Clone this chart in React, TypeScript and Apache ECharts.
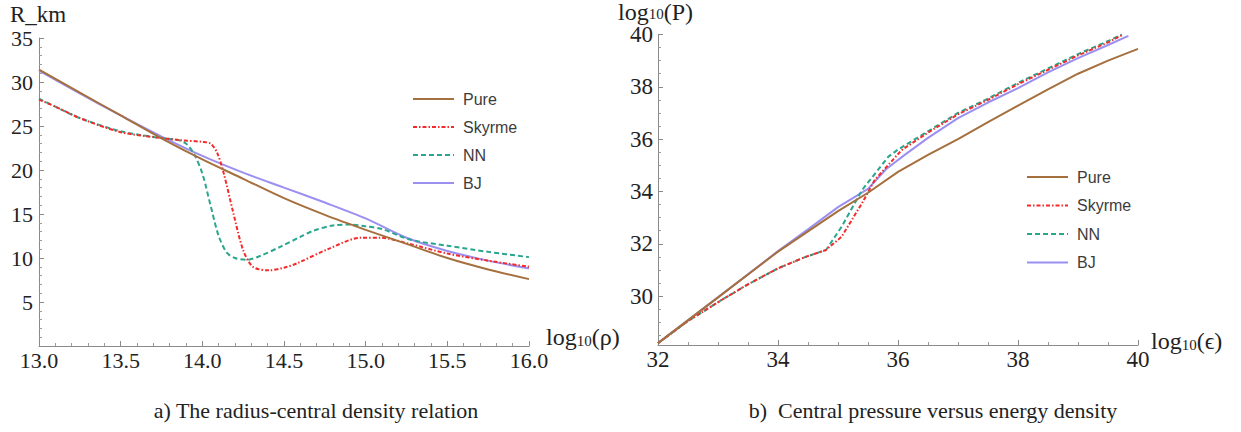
import React, { useEffect, useRef } from 'react';
import * as echarts from 'echarts';

// ---------- data ----------
const seriesNames = ['Pure', 'Skyrme', 'NN', 'BJ'];
const seriesColors = ['#a66f3e', '#f52a2a', '#2aa68e', '#9b90f0'];

// a) radius (km) vs log10(central density)
const pureRadius = [
  [13.0, 31.4], [13.25, 28.8], [13.5, 26.2], [13.75, 23.6], [14.0, 21.2], [14.25, 19.0],
  [14.5, 16.8], [14.75, 14.9], [15.0, 13.2], [15.25, 11.6], [15.5, 10.0], [15.75, 8.7], [16.0, 7.6],
];
const skyrmeRadius = [
  [13.0, 28.0], [13.1, 27.2], [13.25, 25.9], [13.5, 24.3], [13.72, 23.7], [13.86, 23.4], [14.0, 23.2],
  [14.05, 23.0], [14.09, 22.0], [14.13, 19.7], [14.19, 15.1], [14.25, 10.9], [14.31, 9.0],
  [14.41, 8.6], [14.5, 8.9], [14.58, 9.4], [14.78, 11.1], [14.97, 12.3], [15.09, 12.3],
  [15.27, 11.6], [15.5, 10.5], [15.75, 9.7], [16.0, 9.0],
];
const nnRadius = [
  [13.0, 28.1], [13.1, 27.2], [13.25, 25.9], [13.5, 24.4], [13.72, 23.7], [13.85, 23.4], [13.9, 23.0],
  [13.95, 21.8], [14.0, 19.6], [14.05, 16.0], [14.1, 12.5], [14.15, 10.6], [14.2, 10.0],
  [14.27, 9.8], [14.35, 10.2], [14.48, 11.3], [14.6, 12.4], [14.68, 13.1], [14.8, 13.7],
  [14.9, 13.8], [15.0, 13.6], [15.1, 13.3], [15.27, 12.1], [15.5, 11.4], [15.75, 10.7], [16.0, 10.1],
];
const bjRadius = [
  [13.0, 31.3], [13.25, 28.7], [13.5, 26.2], [13.75, 23.8], [14.0, 21.6], [14.25, 19.7],
  [14.5, 18.0], [14.75, 16.3], [15.0, 14.5], [15.25, 12.3], [15.5, 10.8], [15.75, 9.7], [16.0, 8.8],
];

// b) log10(P) vs log10(energy density)
const purePressure = [
  [32, 28.2], [33, 29.95], [34, 31.7], [35, 33.25], [35.5, 33.95], [36, 34.75], [36.5, 35.4],
  [37, 36.0], [37.5, 36.65], [38, 37.28], [38.5, 37.9], [39, 38.5], [39.5, 39.0], [40, 39.45],
];
const skyrmePressure = [
  [32, 28.2], [32.5, 29.05], [33.06, 29.85], [33.5, 30.45], [34, 31.06], [34.46, 31.5],
  [34.8, 31.76], [34.87, 31.9], [35.06, 32.27], [35.4, 33.55], [35.61, 34.43], [36.06, 35.58],
  [36.5, 36.25], [37, 36.95], [37.5, 37.5], [38, 38.1], [38.5, 38.65], [39, 39.2],
  [39.5, 39.7], [39.73, 39.97],
];
const nnPressure = [
  [32, 28.2], [32.5, 29.05], [33.06, 29.85], [33.5, 30.45], [34, 31.06], [34.46, 31.5],
  [34.8, 31.76], [35.06, 32.65], [35.4, 34.05], [35.84, 35.33], [36.0, 35.6], [36.5, 36.3],
  [37, 37.0], [37.5, 37.55], [38, 38.15], [38.5, 38.7], [39, 39.25], [39.5, 39.75], [39.73, 40.0],
];
const bjPressure = [
  [32, 28.2], [33, 29.95], [34, 31.72], [34.5, 32.55], [35, 33.4], [35.5, 34.1], [35.8, 34.85],
  [36.1, 35.38], [36.5, 36.05], [37, 36.8], [37.5, 37.4], [38, 37.95], [38.5, 38.55],
  [39, 39.1], [39.5, 39.6], [39.84, 39.95],
];

const radiusData = [pureRadius, skyrmeRadius, nnRadius, bjRadius];
const pressureData = [purePressure, skyrmePressure, nnPressure, bjPressure];

const captionA = 'a) The radius-central density relation';
const captionB = 'b)  Central pressure versus energy density';

// ---------- styles ----------
const SERIF = "'Liberation Serif', 'Times New Roman', serif";
const SANS = "'Liberation Sans', Arial, sans-serif";
const dashTypes: any[] = ['solid', [4, 2, 1.5, 2], [5, 3], 'solid'];

const axisCommon = {
  type: 'value',
  axisLine: { show: true, lineStyle: { color: '#8a8a8a', width: 1 } },
  axisTick: { show: true, inside: true, length: 5, lineStyle: { color: '#8a8a8a' } },
  splitLine: { show: false },
};

const subLabel = (pre: string, post: string, lh = 22) => ({
  text: `{a|${pre}}{b|10}{a|${post}}`,
  rich: {
    a: { fontFamily: SERIF, fontSize: 24, lineHeight: lh, fill: '#222' },
    b: { fontFamily: SERIF, fontSize: 15, lineHeight: 10, verticalAlign: 'bottom', fill: '#222' },
  },
});

export default function App() {
  const ref = useRef<HTMLDivElement>(null);

  useEffect(() => {
    if (!ref.current) return;
    const chart = echarts.init(ref.current, undefined, { renderer: 'svg' });

    const series: any[] = [];
    seriesNames.forEach((name, i) => {
      series.push({
        name,
        type: 'line',
        xAxisIndex: 0,
        yAxisIndex: 0,
        data: radiusData[i],
        showSymbol: false,
        symbol: 'none',
        smooth: 0.3,
        lineStyle: { color: seriesColors[i], width: 2, type: dashTypes[i] },
        itemStyle: { color: seriesColors[i] },
        z: 10 - i,
      });
    });
    seriesNames.forEach((name, i) => {
      series.push({
        name,
        type: 'line',
        xAxisIndex: 1,
        yAxisIndex: 1,
        data: pressureData[i],
        showSymbol: false,
        symbol: 'none',
        smooth: false,
        lineStyle: { color: seriesColors[i], width: 2, type: dashTypes[i] },
        itemStyle: { color: seriesColors[i] },
        z: 10 - i,
      });
    });

    const legendCommon = {
      orient: 'vertical',
      itemWidth: 41,
      itemHeight: 14,
      padding: 0,
      itemStyle: { opacity: 0 },
      textStyle: { fontFamily: SANS, fontSize: 16, color: '#3c3c3c', padding: [0, 0, 0, 4] },
      data: seriesNames,
      selectedMode: false,
    };

    chart.setOption({
      animation: false,
      backgroundColor: '#ffffff',
      grid: [
        { left: 39, top: 38, width: 490, height: 308 },
        { left: 658, top: 34.5, width: 480, height: 310.5 },
      ],
      xAxis: [
        {
          ...axisCommon,
          gridIndex: 0,
          min: 13,
          max: 16,
          interval: 0.5,
          minorTick: { show: true, splitNumber: 5, length: 3, lineStyle: { color: '#9a9a9a' } },
          axisLabel: {
            fontFamily: SERIF, fontSize: 22, color: '#222', margin: 3,
            formatter: (v: number) => v.toFixed(1),
          },
        },
        {
          ...axisCommon,
          gridIndex: 1,
          min: 32,
          max: 40,
          interval: 2,
          minorTick: { show: true, splitNumber: 4, length: 3, lineStyle: { color: '#9a9a9a' } },
          axisLabel: { fontFamily: SERIF, fontSize: 23, color: '#222', margin: 3 },
        },
      ],
      yAxis: [
        {
          ...axisCommon,
          gridIndex: 0,
          min: 0,
          max: 35,
          interval: 5,
          minorTick: { show: true, splitNumber: 5, length: 3, lineStyle: { color: '#9a9a9a' } },
          axisLabel: { fontFamily: SERIF, fontSize: 22, color: '#222', margin: 6, showMinLabel: false },
        },
        {
          ...axisCommon,
          gridIndex: 1,
          min: 28.13,
          max: 40,
          splitNumber: 6,
          minInterval: 2,
          maxInterval: 2,
          minorTick: { show: true, splitNumber: 4, length: 3, lineStyle: { color: '#9a9a9a' } },
          axisLabel: {
            fontFamily: SERIF, fontSize: 23, lineHeight: 17, color: '#222', margin: 5, showMinLabel: false,
          },
        },
      ],
      legend: [
        { ...legendCommon, left: 412, top: 91, itemGap: 12 },
        { ...legendCommon, left: 1026, top: 169, itemGap: 12.5 },
      ],
      graphic: [
        {
          type: 'text', left: 10, top: 3,
          style: { text: 'R_km', font: `23px ${SERIF}`, lineHeight: 22, fill: '#222' },
        },
        { type: 'text', x: 546, y: 326, style: subLabel('log', '(ρ)') },
        { type: 'text', x: 618, y: 3, style: subLabel('log', '(P)', 18) },
        { type: 'text', x: 1151, y: 330, style: subLabel('log', '(ϵ)') },
        {
          type: 'text', x: 316, y: 410,
          style: { text: captionA, font: `22px ${SERIF}`, fill: '#222', align: 'center', verticalAlign: 'middle' },
        },
        {
          type: 'text', x: 933, y: 410,
          style: { text: captionB, font: `22px ${SERIF}`, fill: '#222', align: 'center', verticalAlign: 'middle' },
        },
      ],
      series,
    });

    return () => chart.dispose();
  }, []);

  return (
    <div
      ref={ref}
      style={{ position: 'absolute', left: 0, top: 0, width: 1241, height: 432, background: '#fff' }}
    />
  );
}
